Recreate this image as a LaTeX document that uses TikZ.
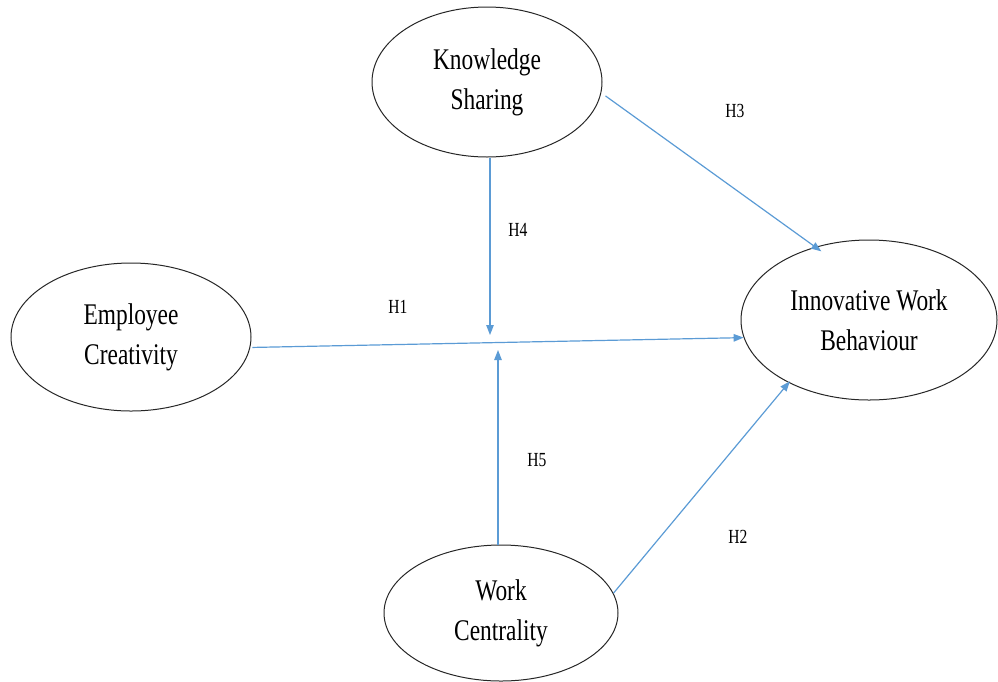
\documentclass[tikz,border=0pt]{standalone}
\usepackage{fontspec}
\setmainfont{Liberation Serif}
\newfontfamily\lblfont[FakeStretch=0.78]{Liberation Serif}
\usetikzlibrary{shapes.geometric,arrows.meta}
\definecolor{lineblue}{RGB}{91,155,213}
\tikzset{
  construct/.style={draw=black!85, line width=1pt, ellipse, inner sep=0pt,
    align=center, font=\lblfont\fontsize{30}{40}\selectfont},
  arr/.style={draw=lineblue, line width=1.2pt,
    -{Triangle[length=10pt,width=7.5pt]}},
  hyp/.style={font=\lblfont\fontsize{20}{22}\selectfont, inner sep=0pt}
}
\begin{document}
\begin{tikzpicture}[x=1pt,y=-1pt]
\useasboundingbox (0,0) rectangle (998,681);
\node[construct, minimum width=230pt, minimum height=150pt] (ks) at (487,82) {Knowledge\\Sharing};
\node[construct, minimum width=240pt, minimum height=148pt] (ec) at (131,337) {Employee\\Creativity};
\node[construct, minimum width=256pt, minimum height=160pt] (iwb) at (869,320) {Innovative Work\\Behaviour};
\node[construct, minimum width=234pt, minimum height=136pt] (wc) at (501,613) {Work\\Centrality};
\coordinate (h4end) at (490,335);
\coordinate (h5end) at (498,350);
\draw[arr] ([xshift=2pt]ec.-5) -- (iwb.188);
\draw[arr] (h4end |- ks.south) -- (h4end);
\draw[arr] (h5end |- wc.north) -- (h5end);
\draw[arr] ([xshift=5pt]ks.-7) -- ([shift={(-4pt,-7pt)}]iwb.120);
\draw[arr] (wc.10) -- ([shift={(-4pt,4pt)}]iwb.221);
\node[hyp] (h1) at (398,307) {H1};
\node[hyp] (h2) at (738,537) {H2};
\node[hyp] (h3) at (735,111) {H3};
\node[hyp] (h4) at (518,230) {H4};
\node[hyp] (h5) at (537,460) {H5};
\end{tikzpicture}
\end{document}
